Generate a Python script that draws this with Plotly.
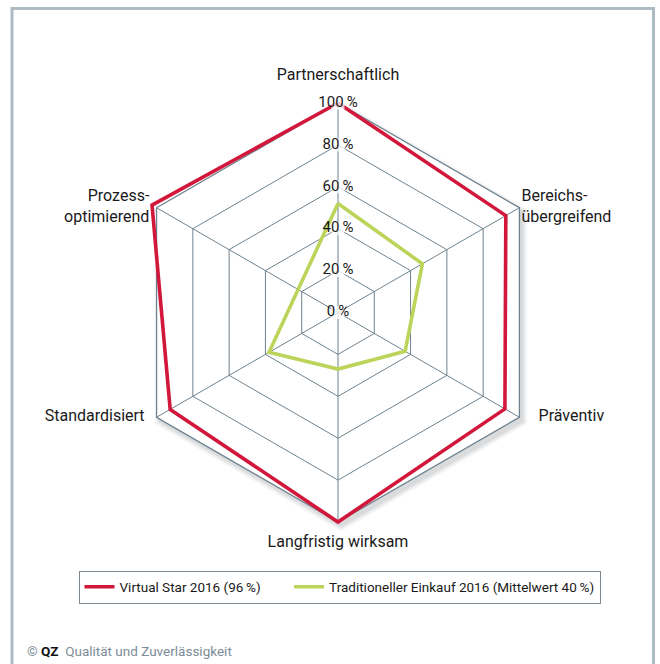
import plotly.graph_objects as go

# ---- data ----
categories = ["Partnerschaftlich", "Bereichsübergreifend", "Präventiv",
              "Langfristig wirksam", "Standardisiert", "Prozessoptimierend"]
category_labels = ["Partnerschaftlich", "Bereichs-<br>übergreifend", "Präventiv",
                   "Langfristig wirksam", "Standardisiert", "Prozess-<br>optimierend"]
virtual_star = [100, 92.5, 92, 100, 92.5, 102.5]
traditionell = [52, 46.5, 37, 27, 38, 22]
radial_ticks = [0, 20, 40, 60, 80, 100]
radial_tick_labels = ["0\u2009%", "20\u2009%", "40\u2009%", "60\u2009%", "80\u2009%", "100\u2009%"]
series_names = ["Virtual Star 2016 (96\u2009%)", "Traditioneller Einkauf 2016 (Mittelwert 40\u2009%)"]

# ---- style ----
W, H = 660, 664
FONT = "Roboto, Liberation Sans, sans-serif"
GRID = "#6e828f"
RED = "#d2183a"
GREEN = "#bdd45a"
R_MAX = radial_ticks[-1]
R_OVER = R_MAX * 1.06          # headroom for the overlay subplot (values > 100 %)
LEGEND_PAD = "\u00a0" * 7      # extra gap after the first legend entry

cx, cy, R = 338, 312.5, 209.5  # pixel centre / radius of the 100 % hexagon
R3 = R * R_OVER / R_MAX

def dom(center_x, center_y, radius):
    return dict(x=[(center_x - radius) / W, (center_x + radius) / W],
                y=[(H - (center_y + radius)) / H, (H - (center_y - radius)) / H])

def closed(vals):
    return list(vals) + [vals[0]]

ang_hidden = dict(visible=False, type="category", categoryarray=categories,
                  direction="clockwise", rotation=90)

fig = go.Figure()

# soft shadow of the outer hexagon (subplot "polar", drawn first)
for extra, alpha in [(2.6, 0.05), (1.6, 0.07), (0.6, 0.09)]:
    fig.add_trace(go.Scatterpolar(
        r=closed([R_MAX + extra] * len(categories)), theta=closed(categories),
        mode="lines", fill="toself", fillcolor=f"rgba(70,80,90,{alpha})",
        line=dict(width=0, color="rgba(0,0,0,0)"), subplot="polar",
        showlegend=False, hoverinfo="skip"))

# placeholder so the grid subplot "polar2" is ordered between shadow and data
fig.add_trace(go.Scatterpolar(
    r=[radial_ticks[0]], theta=[categories[0]], mode="markers",
    marker=dict(opacity=0), subplot="polar2", showlegend=False, hoverinfo="skip"))

# data series (overlay subplot "polar3")
fig.add_trace(go.Scatterpolar(
    r=closed(virtual_star), theta=closed(categories), mode="lines",
    line=dict(color=RED, width=3.6), name=series_names[0] + LEGEND_PAD, subplot="polar3"))
fig.add_trace(go.Scatterpolar(
    r=closed(traditionell), theta=closed(categories), mode="lines",
    line=dict(color=GREEN, width=3.6), name=series_names[1], subplot="polar3"))

# category labels
fig.add_trace(go.Scatterpolar(
    r=[R_MAX] * len(categories), theta=categories, text=category_labels,
    mode="markers+text",
    marker=dict(size=[29, 1.6, 29, 19, 17.6, 10], opacity=0),
    textposition=["top center", "middle right", "middle right",
                  "bottom center", "middle left", "middle left"],
    textfont=dict(family=FONT, size=16, color="#1a1a1a"),
    subplot="polar3", showlegend=False, hoverinfo="skip", cliponaxis=False))

# radial tick labels along the first spoke
fig.add_trace(go.Scatterpolar(
    r=radial_ticks, theta=[categories[0]] * len(radial_ticks), text=radial_tick_labels,
    mode="markers+text",
    marker=dict(symbol="square", size=13, color="white", opacity=0.75),
    textposition="middle center",
    textfont=dict(family=FONT, size=15, color="#1a1a1a"),
    subplot="polar3", showlegend=False, hoverinfo="skip", cliponaxis=False))

fig.update_layout(
    width=W, height=H,
    margin=dict(l=0, r=0, t=0, b=0),
    paper_bgcolor="white",
    font=dict(family=FONT, color="#1a1a1a"),
    polar=dict(
        domain=dom(cx + 3, cy + 4, R3), bgcolor="rgba(0,0,0,0)",
        radialaxis=dict(visible=False, range=[0, R_OVER]),
        angularaxis=ang_hidden,
    ),
    polar2=dict(
        domain=dom(cx, cy, R), gridshape="linear", bgcolor="white",
        radialaxis=dict(range=[0, R_MAX], tickvals=radial_ticks, showticklabels=False,
                        ticks="", showline=False, gridcolor=GRID, gridwidth=1.2,
                        angle=90),
        angularaxis=dict(type="category", categoryarray=categories,
                         direction="clockwise", rotation=90, showticklabels=False,
                         ticks="", showline=True, linecolor=GRID, linewidth=1.3,
                         gridcolor=GRID, gridwidth=1.2),
    ),
    polar3=dict(
        domain=dom(cx, cy, R3), bgcolor="rgba(0,0,0,0)",
        radialaxis=dict(visible=False, range=[0, R_OVER]),
        angularaxis=ang_hidden,
    ),
    legend=dict(
        orientation="h", x=339.5 / W, xanchor="center", y=(H - 587) / H, yanchor="middle",
        bgcolor="white", bordercolor="#7d8a94", borderwidth=1,
        font=dict(family=FONT, size=13.5, color="#1a1a1a"),
        traceorder="normal",
    ),
    shapes=[dict(type="rect", xref="paper", yref="paper",
                 x0=12 / W, x1=653.5 / W, y0=-0.05, y1=(H - 8.5) / H,
                 line=dict(color="#adbbc5", width=3), fillcolor="rgba(0,0,0,0)",
                 layer="below")],
    annotations=[dict(
        xref="paper", yref="paper", x=25 / W, y=(H - 651) / H,
        xanchor="left", yanchor="middle", showarrow=False,
        text="<span style='color:#7d8d99'>©</span> <b>QZ</b>\u00a0\u00a0"
             "<span style='color:#7d8d99'>Qualität und Zuverlässigkeit</span>",
        font=dict(family=FONT, size=13.5, color="#111111"))],
)

fig.write_html("out.html")
